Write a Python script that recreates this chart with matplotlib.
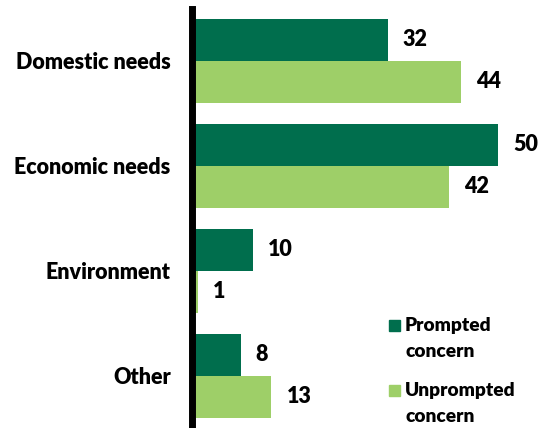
import matplotlib.pyplot as plt
from matplotlib.patches import Rectangle
import numpy as np

categories = ['Domestic needs', 'Economic needs', 'Environment', 'Other']
prompted = [32, 50, 10, 8]
unprompted = [44, 42, 1, 13]
series_names = ['Prompted\nconcern', 'Unprompted\nconcern']

dark = '#006E4D'
light = '#9ECF68'

plt.rcParams['font.family'] = 'Lato'
plt.rcParams['font.weight'] = 'bold'

W, H = 545, 428
fig = plt.figure(figsize=(W / 100, H / 100), dpi=100)
ax = fig.add_axes([191.5 / W, 0, (W - 191.5) / W, 1 - 8.5 / H])

y = np.arange(len(categories))
h = 0.4
b1 = ax.barh(y - h / 2, prompted, height=h, color=dark)
b2 = ax.barh(y + h / 2, unprompted, height=h, color=light)

for bars, vals in [(b1, prompted), (b2, unprompted)]:
    for bar, v in zip(bars, vals):
        ax.text(v + 2.5, bar.get_y() + bar.get_height() / 2, str(v),
                va='center', ha='left', fontsize=15.5, fontweight='heavy')

ax.set_ylim(len(categories) - 0.5, -0.5)
ax.set_xlim(0, 57.7)
ax.set_yticks(y)
ax.set_yticklabels(categories, fontsize=15.5, fontweight='heavy')
ax.tick_params(axis='y', length=0, pad=15)
ax.set_xticks([])

for s in ['top', 'right', 'bottom']:
    ax.spines[s].set_visible(False)
ax.spines['left'].set_linewidth(5)
ax.spines['left'].set_color('black')

# legend drawn by hand so the swatch sits on the first text line
for i, (name, col) in enumerate(zip(series_names, [dark, light])):
    top = 320 + 65 * i
    fig.patches.append(Rectangle((389 / W, 1 - (top + 11) / H), 11 / W, 11 / H,
                                 transform=fig.transFigure, color=col))
    for j, line in enumerate(name.split('\n')):
        fig.text(405 / W, 1 - (top + 5.5 + 26 * j) / H, line, va='center',
                 ha='left', fontsize=13.8, fontweight='heavy')

fig.savefig('out.png', dpi=100)
